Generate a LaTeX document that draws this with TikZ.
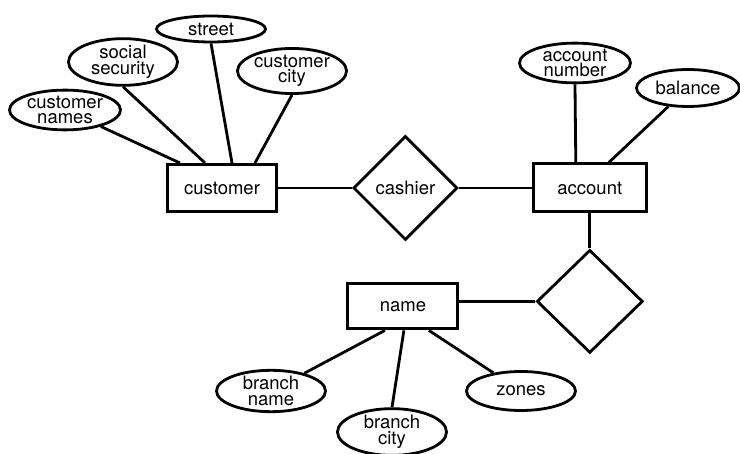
\documentclass[tikz,border=0pt]{standalone}
\usepackage{fontspec}
\setmainfont{TeX Gyre Heros}
\usetikzlibrary{shapes.geometric, positioning}

\begin{document}
\begin{tikzpicture}[
    x=1pt, y=-1pt,
    every node/.style={font=\fontsize{18.5}{15.5}\selectfont},
    entity/.style={
        rectangle,
        draw,
        line width=3pt,
        inner sep=0pt,
        minimum width=109pt,
        minimum height=47pt
    },
    attribute/.style={
        ellipse,
        draw,
        line width=2.8pt,
        align=center,
        inner sep=0pt,
        minimum width=109pt,
        minimum height=37pt
    },
    relation/.style={
        diamond,
        draw,
        line width=2.8pt,
        inner sep=0pt,
        minimum width=104pt,
        minimum height=104pt
    },
    link/.style={
        line width=2.8pt
    }
]
\useasboundingbox (0,0) rectangle (740,454);

% Entidades y relaciones
\node[entity] (customer) at (222,188) {customer};

\node[relation, right=74pt of customer] (cashier) {cashier};

\node[entity, right=73pt of cashier, minimum width=113pt, minimum height=48pt] (account) {account};

\node[relation, below=35pt of account, minimum width=106pt, minimum height=103pt] (holds) {};

\node[entity, left=76pt of holds, yshift=-5pt, minimum width=110pt, minimum height=45pt] (name) {name};

% Atributos
\node[attribute, minimum height=26pt] (street) at (211,29) {street};
\node[attribute, minimum height=36pt] (social) at (123,62) {social\\security};
\node[attribute, minimum height=35pt] (custcity) at (292,71) {customer\\city};
\node[attribute, minimum width=111pt, minimum height=33pt] (custnames) at (65,110) {customer\\names};

\node[attribute, minimum width=111pt] (accnumber) at (575,63) {account\\number};
\node[attribute, minimum width=103pt] (balance) at (688,88) {balance};

\node[attribute, minimum height=39pt] (brname) at (271,391) {branch\\name};
\node[attribute] (brcity) at (392,432) {branch\\city};
\node[attribute, minimum height=39pt] (zones) at (521,391) {zones};

% Lineas principales
\draw[link] (customer) -- (cashier);
\draw[link] (cashier) -- (account);
\draw[link] (account) -- (holds);
\draw[link] (holds.west) -- (holds.west -| name.east);

% Atributos de customer
\draw[link] (custnames) -- ([xshift=-42pt]customer.north);
\draw[link] (social.south) -- ([xshift=-17pt]customer.north);
\draw[link] (street.south) -- ([xshift=10pt]customer.north);
\draw[link] (custcity.south) -- ([xshift=33pt]customer.north);

% Atributos de account
\draw[link] (accnumber.south) -- ([xshift=-14pt]account.north);
\draw[link] (balance) -- ([xshift=19pt]account.north);

% Atributos de name
\draw[link] (brname) -- ([xshift=-18pt]name.south);
\draw[link] (brcity.north) -- ([xshift=1pt]name.south);
\draw[link] (zones) -- ([xshift=26pt]name.south);

\end{tikzpicture}
\end{document}
